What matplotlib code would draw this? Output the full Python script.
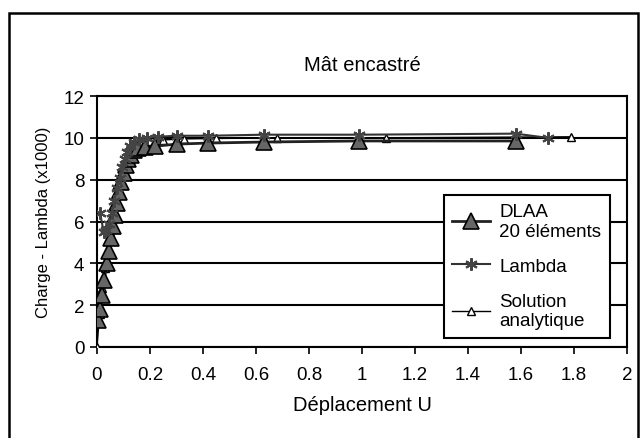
import matplotlib
matplotlib.use("Agg")
import matplotlib.pyplot as plt
from matplotlib.patches import Rectangle

plt.rcParams['font.family'] = ['Liberation Sans', 'DejaVu Sans']

title = "Mât encastré"
xlabel = "Déplacement U"
ylabel = "Charge - Lambda (x1000)"
xticks = [0, 0.2, 0.4, 0.6, 0.8, 1, 1.2, 1.4, 1.6, 1.8, 2]
xtick_labels = ["0", "0.2", "0.4", "0.6", "0.8", "1", "1.2", "1.4", "1.6", "1.8", "2"]
yticks = [0, 2, 4, 6, 8, 10, 12]

dlaa_x = [0.005, 0.012, 0.02, 0.028, 0.036, 0.044, 0.052, 0.06, 0.068, 0.076, 0.084, 0.092,
          0.10, 0.108, 0.118, 0.128, 0.14, 0.155, 0.18, 0.22, 0.30, 0.42, 0.63, 0.99, 1.58]
dlaa_y = [1.3, 1.8, 2.5, 3.2, 4.0, 4.6, 5.2, 5.8, 6.3, 6.9, 7.4, 7.9,
          8.3, 8.7, 9.0, 9.2, 9.4, 9.5, 9.55, 9.6, 9.7, 9.75, 9.8, 9.85, 9.85]

lambda_x = [0.012, 0.025, 0.035, 0.045, 0.055, 0.065, 0.075, 0.085, 0.095, 0.105, 0.115,
            0.125, 0.14, 0.16, 0.19, 0.23, 0.30, 0.42, 0.63, 0.99, 1.58, 1.70]
lambda_y = [6.4, 5.5, 5.6, 5.9, 6.4, 7.0, 7.6, 8.1, 8.6, 9.0, 9.3,
            9.6, 9.8, 9.95, 10.0, 10.05, 10.1, 10.1, 10.15, 10.15, 10.2, 10.0]

analytic_x = [0.0, 0.01, 0.02, 0.03, 0.04, 0.05, 0.06, 0.07, 0.08, 0.09, 0.10, 0.11,
              0.12, 0.135, 0.15, 0.17, 0.20, 0.25, 0.33, 0.45, 0.68, 1.09, 1.79]
analytic_y = [0.0, 1.6, 2.8, 3.8, 4.7, 5.5, 6.2, 6.9, 7.5, 8.0, 8.5, 8.9,
              9.2, 9.45, 9.6, 9.75, 9.85, 9.9, 9.95, 9.97, 10.0, 10.0, 10.05]

fig = plt.figure(figsize=(6.41, 4.39), dpi=100)
fig.patches.append(Rectangle((9/641, -0.05), 629/641, 1.05 - 14/439, transform=fig.transFigure,
                             fill=False, edgecolor='black', linewidth=1.8))
ax = fig.add_axes([97/641, 1-348/439, 530/641, 251/439])

ax.plot(analytic_x, analytic_y, color='black', linewidth=1.0, marker='^', markersize=6,
        markerfacecolor='white', markeredgecolor='black', markeredgewidth=1.0,
        label="Solution\nanalytique", zorder=3)
ax.plot(dlaa_x, dlaa_y, color='#222222', linewidth=2.0, marker='^', markersize=11,
        markerfacecolor='#666666', markeredgecolor='black', markeredgewidth=1.2,
        label="DLAA\n20 éléments", zorder=4)
ax.plot(lambda_x, lambda_y, color='#333333', linewidth=1.5, marker=(6, 2, 0), markersize=9,
        markeredgecolor='#444444', markeredgewidth=1.5,
        label="Lambda", zorder=5)

ax.set_xlim(0, 2)
ax.set_ylim(0, 12)
ax.set_xticks(xticks)
ax.set_xticklabels(xtick_labels)
ax.set_yticks(yticks)
ax.tick_params(axis='both', labelsize=13.5, direction='out', length=5, width=1.2)
ax.tick_params(axis='x', pad=9)
ax.tick_params(axis='y', pad=4)
ax.grid(axis='y', color='black', linewidth=1.5)
ax.set_axisbelow(True)
for s in ax.spines.values():
    s.set_linewidth(1.5)

ax.set_xlabel(xlabel, fontsize=14.5, labelpad=8)
ax.set_ylabel(ylabel, fontsize=12, labelpad=9)
ax.set_title(title, fontsize=14.5, pad=19)

handles, labels = ax.get_legend_handles_labels()
order = [1, 2, 0]
leg = ax.legend([handles[i] for i in order], [labels[i] for i in order],
                loc='lower right', bbox_to_anchor=(0.985, 0.0), fontsize=13.5,
                frameon=True, fancybox=False, edgecolor='black', framealpha=1,
                handlelength=2.0, labelspacing=0.95, borderpad=0.45, handletextpad=0.5)
leg.get_frame().set_linewidth(1.5)

fig.savefig("out.png", dpi=100)
